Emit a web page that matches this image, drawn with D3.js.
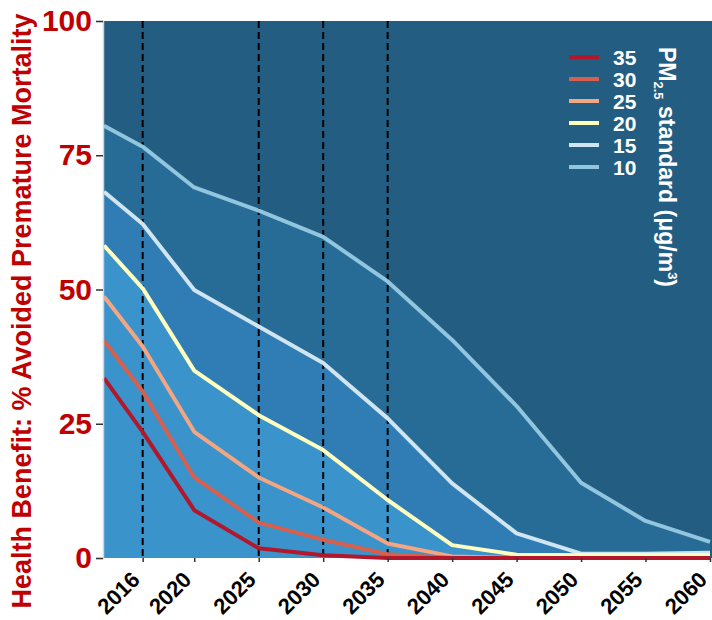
<!DOCTYPE html>
<html>
<head>
<meta charset="utf-8">
<script src="https://cdn.jsdelivr.net/npm/d3@7"></script>
<style>
  html, body { margin: 0; padding: 0; background: #ffffff; }
  svg { display: block; font-family: "Liberation Sans", Arial, sans-serif; }
</style>
</head>
<body>
<svg id="chart" width="712" height="620"></svg>
<script>
// Years sampled along the x axis
const years = [2013, 2016, 2020, 2025, 2030, 2035, 2040, 2045, 2050, 2055, 2060];
const tickYears = [2016, 2020, 2025, 2030, 2035, 2040, 2045, 2050, 2055, 2060];
const markerYears = [2016, 2025, 2030, 2035];
const yTicks = [0, 25, 50, 75, 100];

// % avoided premature mortality for each PM2.5 standard (µg/m³)
const standards = ["35", "30", "25", "20", "15", "10"];
const s35 = [33.5, 23.5, 8.9, 1.8, 0.5, 0, 0, 0, 0, 0, 0];
const s30 = [40.5, 31.0, 15.0, 6.6, 3.4, 0.7, 0, 0, 0, 0, 0];
const s25 = [48.7, 39.4, 23.5, 15.0, 9.4, 2.7, 0.3, 0, 0, 0, 0];
const s20 = [58.2, 50.2, 34.9, 26.6, 20.1, 10.8, 2.4, 0.6, 0.5, 0.5, 0.5];
const s15 = [68.2, 62.2, 49.9, 43.1, 36.3, 26.0, 13.9, 4.6, 0.8, 0.8, 1.0];
const s10 = [80.5, 76.6, 69.0, 64.7, 59.8, 51.5, 40.6, 28.3, 14.0, 6.9, 3.0];

const seriesValues = { "35": s35, "30": s30, "25": s25, "20": s20, "15": s15, "10": s10 };
const lineColors = { "35": "#b2182b", "30": "#d6604d", "25": "#f4a582", "20": "#ffffbf", "15": "#d1e5f0", "10": "#92c5de" };

const svg = d3.select("#chart");
const plotLeft = 104, plotRight = 710, plotTop = 21, plotBottom = 558;

const x = d3.scaleLinear().domain([2013, 2060]).range([plotLeft, plotRight]);
const y = d3.scaleLinear().domain([0, 100]).range([plotBottom, plotTop]);

// plot background (region above the weakest standard)
svg.append("rect")
  .attr("x", plotLeft).attr("y", plotTop)
  .attr("width", plotRight - plotLeft + 2).attr("height", plotBottom - plotTop)
  .attr("fill", "#235e82");

// shaded bands under the 10, 15 and 20 curves
const bandFills = [["10", "#276c96"], ["15", "#2f7db4"], ["20", "#3a93cb"]];
const area = d3.area()
  .x((d, i) => x(years[i]))
  .y0(y(0))
  .y1(d => y(d));
bandFills.forEach(([k, c]) => {
  svg.append("path").attr("d", area(seriesValues[k])).attr("fill", c);
});

// dashed reference years
svg.append("g").selectAll("line")
  .data(markerYears)
  .join("line")
  .attr("x1", d => x(d)).attr("x2", d => x(d))
  .attr("y1", plotTop).attr("y2", plotBottom + 2)
  .attr("stroke", "#000")
  .attr("stroke-width", 2)
  .attr("stroke-dasharray", "7,4");

// curves, weakest reduction drawn last
const line = d3.line()
  .x((d, i) => x(years[i]))
  .y(d => y(d));
["10", "15", "20", "25", "30", "35"].forEach(k => {
  svg.append("path")
    .attr("d", line(seriesValues[k]))
    .attr("fill", "none")
    .attr("stroke", lineColors[k])
    .attr("stroke-width", 4)
    .attr("stroke-linejoin", "round");
});

// y axis
const yAxis = svg.append("g")
  .attr("transform", `translate(${plotLeft - 1},0)`)
  .call(d3.axisLeft(y).tickValues(yTicks).tickSize(7).tickPadding(4));
yAxis.select(".domain").attr("stroke", "#cfd6dc").attr("stroke-width", 1.5);
yAxis.selectAll(".tick line").attr("stroke", "#333").attr("stroke-width", 1.5);
yAxis.selectAll("text")
  .attr("fill", "#c00000")
  .attr("font-size", 30)
  .attr("font-weight", "bold")
  .attr("font-family", "Liberation Sans, Arial, sans-serif");

// x axis
const xAxis = svg.append("g")
  .attr("transform", `translate(0,${plotBottom})`)
  .call(d3.axisBottom(x).tickValues(tickYears).tickFormat(d3.format("d")).tickSize(4));
xAxis.select(".domain").remove();
xAxis.selectAll(".tick line").attr("stroke", "#333").attr("stroke-width", 1.5);
xAxis.selectAll("text")
  .attr("x", 0).attr("y", 0).attr("dy", 0)
  .attr("fill", "#000")
  .attr("font-size", 22)
  .attr("font-weight", "bold")
  .attr("font-family", "Liberation Sans, Arial, sans-serif")
  .attr("text-anchor", "end")
  .attr("transform", "translate(-2,23) rotate(-45)");

// y axis title
svg.append("text")
  .attr("transform", `translate(31,311) rotate(-90)`)
  .attr("text-anchor", "middle")
  .attr("fill", "#c00000")
  .attr("font-size", 27)
  .attr("font-weight", "bold")
  .text("Health Benefit: % Avoided Premature Mortality");

// legend
const legend = svg.append("g");
const legendY = d3.scalePoint().domain(standards).range([57, 167]);
legend.selectAll("line")
  .data(standards)
  .join("line")
  .attr("x1", 569).attr("x2", 599)
  .attr("y1", d => legendY(d)).attr("y2", d => legendY(d))
  .attr("stroke", d => lineColors[d])
  .attr("stroke-width", 4);
legend.selectAll("text")
  .data(standards)
  .join("text")
  .attr("x", 613)
  .attr("y", d => legendY(d))
  .attr("dy", "0.36em")
  .attr("fill", "#fff")
  .attr("font-size", 21)
  .attr("font-weight", "bold")
  .text(d => d);

const title = legend.append("text")
  .attr("transform", "translate(659,47) rotate(90)")
  .attr("fill", "#fff")
  .attr("font-size", 23)
  .attr("font-weight", "bold");
title.append("tspan").text("PM");
title.append("tspan").attr("font-size", 13).attr("dy", 5).text("2.5");
title.append("tspan").attr("dy", -5).text(" standard (μg/m");
title.append("tspan").attr("font-size", 13).attr("dy", -9).text("3");
title.append("tspan").attr("dy", 9).text(")");
</script>
</body>
</html>
